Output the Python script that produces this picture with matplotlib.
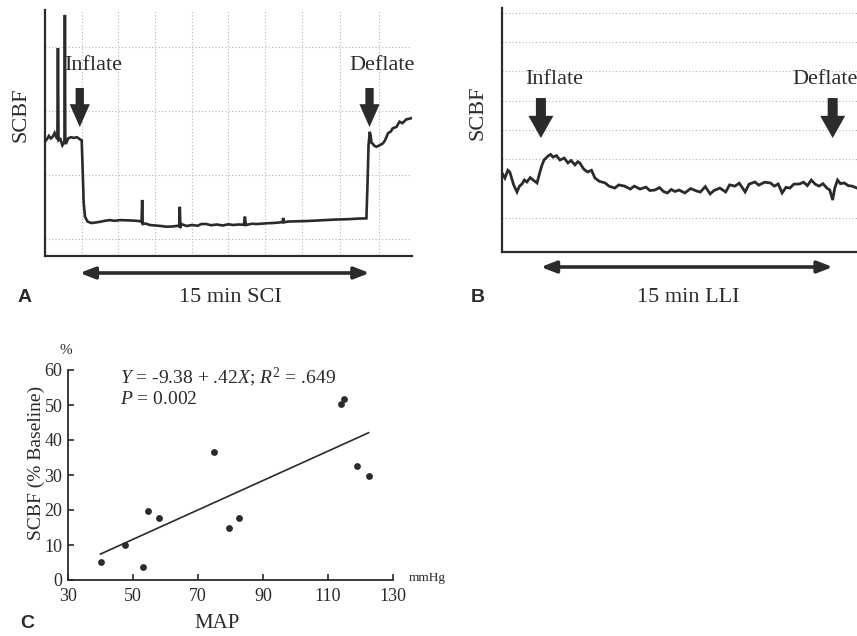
import matplotlib
matplotlib.use("Agg")
import matplotlib.pyplot as plt
import numpy as np

plt.rcParams['font.family'] = ['Liberation Serif', 'DejaVu Serif']
plt.rcParams['mathtext.fontset'] = 'custom'
plt.rcParams['mathtext.rm'] = 'Liberation Serif'
plt.rcParams['mathtext.it'] = 'Liberation Serif:italic'

INK = '#2b2b2b'
GRID = '#b5b5b5'

# ---------------- Panel A data (time in min, SCBF arbitrary units) ----------------
a_t = [0.0, 0.1, 0.2, 0.3, 0.4, 0.5, 0.6, 0.64, 0.67, 0.70, 0.8, 0.9, 0.98, 1.01, 1.03, 1.05,
       1.08, 1.2, 1.35, 1.5, 1.65, 1.8, 1.9, 1.95, 2.0, 2.07, 2.2, 2.4, 2.6, 2.85, 3.1, 3.36,
       3.6, 3.9, 4.2, 4.57, 4.9, 5.0, 5.03, 5.06, 5.2, 5.43, 5.7, 6.0, 6.29, 6.6, 6.9, 6.95,
       6.98, 7.01, 7.05, 7.33, 7.6, 7.9, 8.1, 8.36, 8.6, 8.9, 9.2, 9.5, 9.74, 10.0, 10.3, 10.35,
       10.4, 10.7, 11.0, 11.47, 11.8, 12.1, 12.3, 12.33, 12.36, 12.6, 13.0, 13.5, 14.05, 14.5,
       15.0, 15.4, 15.78, 16.2, 16.64, 16.7, 16.75, 16.81, 16.86, 16.9, 16.95, 17.05, 17.16,
       17.3, 17.5, 17.6, 17.76, 17.9, 18.0, 18.2, 18.35, 18.5, 18.7, 18.95]
a_y = [46.5, 47.5, 48.8, 47.8, 48.5, 50.0, 48.0, 47.5, 84.5, 47.0, 47.5, 45.0, 46.0, 47.0, 98.0, 46.5,
       45.5, 47.8, 48.3, 48.0, 48.3, 47.5, 47.0, 35.0, 22.0, 16.0, 14.0, 13.4, 13.6, 13.9, 14.3, 14.6,
       14.3, 14.6, 14.5, 14.4, 14.2, 13.8, 22.8, 13.0, 13.2, 12.6, 12.4, 12.2, 11.9, 12.0, 12.3, 12.0,
       20.0, 11.5, 13.0, 12.2, 12.6, 12.3, 13.0, 13.0, 12.5, 12.8, 12.4, 12.9, 12.6, 12.8, 12.7, 16.0,
       12.6, 13.1, 13.0, 13.3, 13.4, 13.6, 13.8, 15.5, 13.7, 14.0, 14.1, 14.2, 14.4, 14.6,
       14.8, 14.9, 15.0, 15.2, 15.3, 30.0, 45.0, 50.5, 49.0, 46.0, 45.8, 44.8, 44.4,
       44.9, 45.8, 47.0, 49.9, 50.6, 51.9, 52.5, 54.6, 54.0, 55.5, 56.0]
a_inflate, a_deflate = 1.8, 16.8

# ---------------- Panel B data ----------------
b_t = [0.0, 0.15, 0.3, 0.4, 0.6, 0.77, 0.9, 1.03, 1.15, 1.28, 1.45, 1.6, 1.8, 1.95, 2.05, 2.16,
       2.36, 2.5, 2.62, 2.8, 2.98, 3.2, 3.39, 3.55, 3.75, 3.9, 4.0, 4.2, 4.4, 4.6, 4.78, 5.0,
       5.3, 5.5, 5.8, 6.0, 6.3, 6.6, 6.8, 7.1, 7.4, 7.6, 7.86, 8.1, 8.3, 8.5, 8.7, 8.9, 9.1,
       9.4, 9.7, 10.0, 10.2, 10.45, 10.7, 10.9, 11.2, 11.5, 11.7, 11.97, 12.2, 12.5, 12.7, 13.0,
       13.2, 13.5, 13.8, 14.0, 14.2, 14.4, 14.6, 14.8, 15.0, 15.3, 15.5, 15.7, 15.9, 16.1, 16.3,
       16.5, 16.7, 16.85, 17.0, 17.1, 17.25, 17.4, 17.6, 17.8, 18.0, 18.25]
b_y = [32.4, 30.3, 33.5, 32.8, 27.5, 24.6, 27.0, 27.9, 29.5, 28.7, 30.5, 29.5, 28.3, 32.8, 35.5, 37.7,
       39.3, 40.0, 38.9, 39.5, 37.7, 38.5, 36.5, 37.5, 35.7, 37.0, 36.5, 34.0, 32.8, 33.5, 30.3, 29.0,
       28.3, 27.0, 26.2, 27.5, 27.0, 25.8, 27.0, 25.8, 26.6, 25.2, 25.4, 26.4, 24.8, 24.2, 25.6, 24.8, 25.4,
       24.2, 26.0, 25.0, 24.6, 26.8, 23.8, 25.2, 26.2, 24.6, 27.5, 27.0, 28.2, 24.6, 27.8, 28.7,
       27.4, 28.6, 28.3, 27.0, 27.9, 24.2, 26.5, 26.2, 27.8, 27.9, 28.6, 27.2, 29.5, 27.8, 27.0,
       28.0, 26.2, 25.4, 21.3, 26.0, 29.5, 28.0, 28.3, 27.2, 27.0, 26.2]
b_inflate, b_deflate = 2.0, 17.0

# ---------------- Panel C data ----------------
map_mmhg = [40, 47.5, 53, 54.5, 58, 75, 79.5, 82.5, 114, 115, 119, 122.5]
scbf_pct = [5.2, 9.9, 3.6, 19.8, 17.7, 36.5, 14.8, 17.7, 50.3, 51.7, 32.5, 29.7]
fit_intercept, fit_slope = -9.38, 0.42
fit_x = [40, 122.5]
c_xticks = [30, 50, 70, 90, 110, 130]
c_yticks = [0, 10, 20, 30, 40, 50, 60]

W, H = 857, 636
fig = plt.figure(figsize=(W / 100, H / 100), dpi=100)
fig.patch.set_facecolor('white')


def fx(px):
    return px / W


def fy(py):
    return 1 - py / H


def box(l, t, r, b):
    return [fx(l), fy(b), (r - l) / W, (b - t) / H]


def trace_axes(ax, xmax, ygrid, xgrid):
    ax.set_xlim(0, xmax)
    ax.set_ylim(0, 100)
    for s in ['top', 'right']:
        ax.spines[s].set_visible(False)
    for s in ['left', 'bottom']:
        ax.spines[s].set_color(INK)
        ax.spines[s].set_linewidth(1.6)
    ax.set_xticks([])
    ax.set_yticks([])
    for g in ygrid:
        ax.axhline(g, color=GRID, lw=0.8, ls=(0, (1, 2)), zorder=0)
    for g in xgrid:
        ax.axvline(g, color=GRID, lw=0.8, ls=(0, (1, 2)), zorder=0)


def block_arrow(ax, x, ytail, ytip, hl, hw, tw):
    ax.annotate('', xy=(x, ytip), xytext=(x, ytail),
                arrowprops=dict(arrowstyle=f'simple,head_length={hl},head_width={hw},tail_width={tw}',
                                color=INK, lw=0, shrinkA=0, shrinkB=0, mutation_scale=10),
                annotation_clip=False)


def double_arrow(ax, x0, x1, ypix):
    ax.annotate('', xy=(x1, fy(ypix)), xytext=(x0, fy(ypix)),
                xycoords=('data', 'figure fraction'), textcoords=('data', 'figure fraction'),
                arrowprops=dict(arrowstyle='<|-|>,head_length=0.9,head_width=0.35',
                                color=INK, lw=2.6, shrinkA=0, shrinkB=0, mutation_scale=10),
                annotation_clip=False)


# ---------------- Panel A ----------------
axA = fig.add_axes(box(45, 10, 412, 256))
trace_axes(axA, 19.0, [7, 33, 59, 85], [1.9, 3.8, 5.7, 7.6, 9.5, 11.4, 13.3, 15.25, 17.3])
axA.plot(a_t, a_y, color=INK, lw=1.9, solid_joinstyle='miter')
block_arrow(axA, a_inflate, 68.3, 52.4, 1.65, 1.45, 0.6)
block_arrow(axA, a_deflate, 68.3, 52.4, 1.65, 1.45, 0.6)
double_arrow(axA, a_inflate, a_deflate, 273)
fig.text(fx(64), fy(66), 'Inflate', fontsize=16, color=INK, ha='left', va='center')
fig.text(fx(382), fy(66), 'Deflate', fontsize=16, color=INK, ha='center', va='center')
fig.text(fx(21), fy(115), 'SCBF', fontsize=16, color=INK, rotation=90, ha='center', va='center')
fig.text(fx(230), fy(298), '15 min SCI', fontsize=16, color=INK, ha='center', va='center')
fig.text(fx(25), fy(298), 'A', fontsize=14, color=INK, fontweight='bold',
         family=['Liberation Sans', 'DejaVu Sans'], ha='center', va='center')

# ---------------- Panel B ----------------
axB = fig.add_axes(box(502, 8, 857, 252))
trace_axes(axB, 18.25, [14, 38, 50, 62, 74, 86, 98], [])
axB.plot(b_t, b_y, color=INK, lw=2.0, solid_joinstyle='miter')
block_arrow(axB, b_inflate, 63.1, 46.7, 1.6, 1.8, 0.72)
block_arrow(axB, b_deflate, 63.1, 46.7, 1.6, 1.8, 0.72)
double_arrow(axB, b_inflate, b_deflate, 267)
fig.text(fx(554), fy(80), 'Inflate', fontsize=16, color=INK, ha='center', va='center')
fig.text(fx(792), fy(80), 'Deflate', fontsize=16, color=INK, ha='left', va='center')
fig.text(fx(478), fy(113), 'SCBF', fontsize=16, color=INK, rotation=90, ha='center', va='center')
fig.text(fx(688), fy(298), '15 min LLI', fontsize=16, color=INK, ha='center', va='center')
fig.text(fx(478), fy(298), 'B', fontsize=14, color=INK, fontweight='bold',
         family=['Liberation Sans', 'DejaVu Sans'], ha='center', va='center')

# ---------------- Panel C ----------------
axC = fig.add_axes(box(68, 370, 393, 580))
axC.set_xlim(30, 130)
axC.set_ylim(0, 60)
for s in ['top', 'right']:
    axC.spines[s].set_visible(False)
for s in ['left', 'bottom']:
    axC.spines[s].set_color(INK)
    axC.spines[s].set_linewidth(1.3)
axC.set_xticks(c_xticks)
axC.set_yticks(c_yticks)
axC.tick_params(direction='in', length=4, width=1.2, colors=INK, labelsize=13, pad=4)
axC.tick_params(axis='x', pad=6)
axC.scatter(map_mmhg, scbf_pct, s=24, color=INK, zorder=3, linewidths=0)
fx_arr = np.array(fit_x, dtype=float)
axC.plot(fx_arr, fit_intercept + fit_slope * fx_arr, color=INK, lw=1.2)
fig.text(fx(120), fy(377), r'$\it{Y}$ = -9.38 + .42$\it{X}$; $\it{R}^{2}$ = .649',
         fontsize=14, color=INK, ha='left', va='center')
fig.text(fx(120), fy(399), r'$\it{P}$ = 0.002', fontsize=14, color=INK, ha='left', va='center')
fig.text(fx(66), fy(351), '%', fontsize=11, color=INK, ha='center', va='center')
fig.text(fx(409), fy(578), 'mmHg', fontsize=9.5, color=INK, ha='left', va='center')
fig.text(fx(217), fy(623), 'MAP', fontsize=15, color=INK, ha='center', va='center')
fig.text(fx(36), fy(463), 'SCBF (% Baseline)', fontsize=14, color=INK, rotation=90,
         ha='center', va='center')
fig.text(fx(27), fy(623), 'C', fontsize=14, color=INK, fontweight='bold',
         family=['Liberation Sans', 'DejaVu Sans'], ha='center', va='center')

fig.savefig('out.png', dpi=100, facecolor='white')
